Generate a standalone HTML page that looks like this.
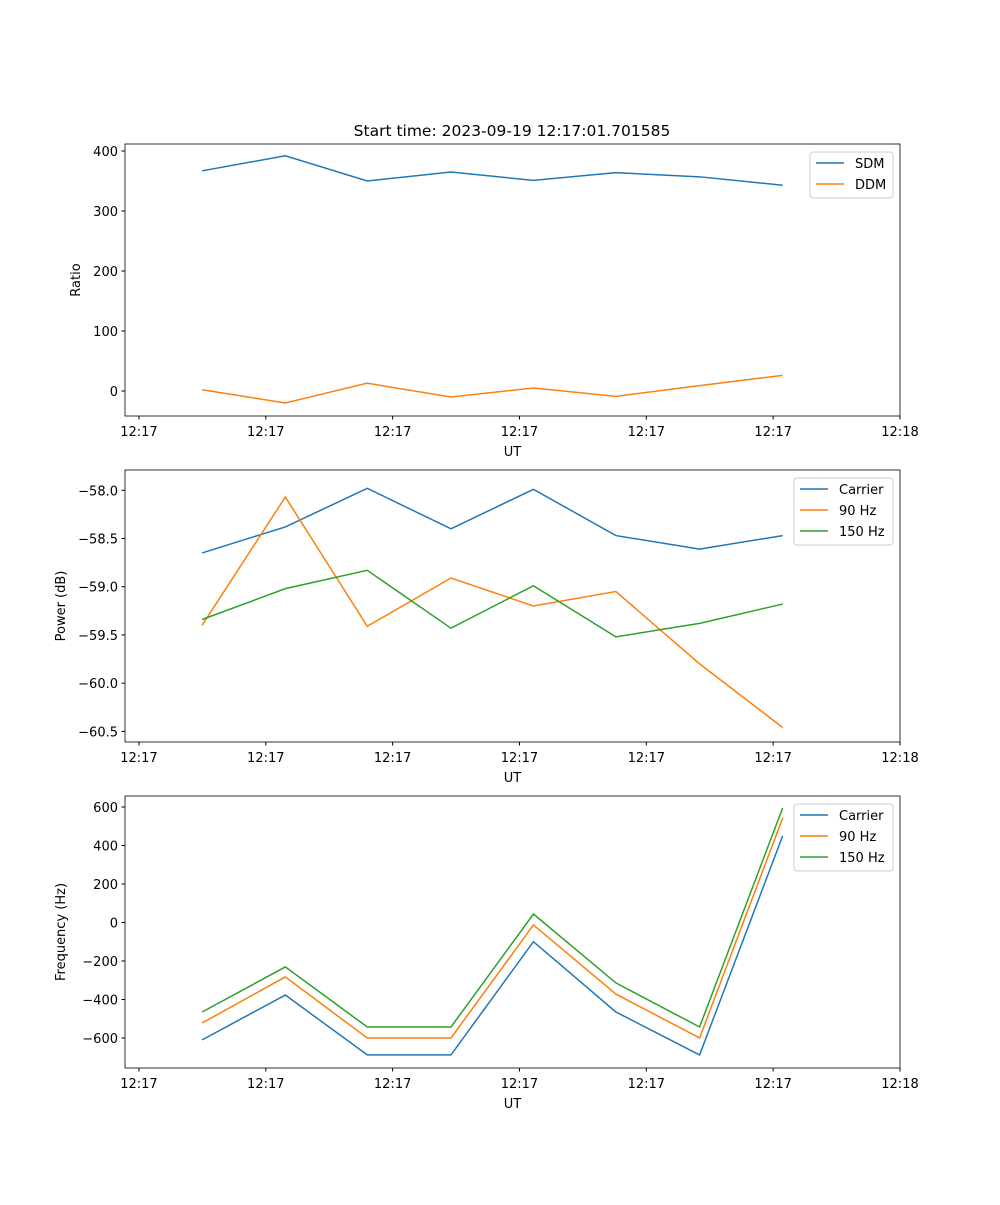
<!DOCTYPE html>
<html><head><meta charset="utf-8"><style>
body{margin:0;background:#fff;}
svg text{font-family:"DejaVu Sans","Liberation Sans",sans-serif;font-size:13px;fill:#000;}
</style></head><body>
<svg id="fig" width="1000" height="1200" xmlns="http://www.w3.org/2000/svg">
<rect width="1000" height="1200" fill="#fff"/>
<text x="512" y="136" text-anchor="middle" style="font-size:15.5px">Start time: 2023-09-19 12:17:01.701585</text>
</svg>
<script>
const xTickLabels=["12:17","12:17","12:17","12:17","12:17","12:17","12:18"];
const xVals=[0.498,1.154,1.80,2.46,3.11,3.76,4.42,5.075];
const sdm=[367,392,350,365,351,364,357,343];
const ddm=[2,-20,13,-10,5,-9,9,26];
const pCarrier=[-58.65,-58.38,-57.98,-58.40,-57.99,-58.47,-58.61,-58.47];
const p90=[-59.40,-58.07,-59.41,-58.91,-59.20,-59.05,-59.80,-60.46];
const p150=[-59.34,-59.02,-58.83,-59.43,-58.99,-59.52,-59.38,-59.18];
const fCarrier=[-610,-377,-688,-688,-100,-465,-688,450];
const f90=[-522,-283,-600,-600,-13,-372,-600,543];
const f150=[-465,-231,-543,-543,44,-314,-543,595];
const ticks1=[0,100,200,300,400],ticks1L=["0","100","200","300","400"];
const ticks2=[-60.5,-60,-59.5,-59,-58.5,-58],ticks2L=["\u221260.5","\u221260.0","\u221259.5","\u221259.0","\u221258.5","\u221258.0"];
const ticks3=[-600,-400,-200,0,200,400,600],ticks3L=["\u2212600","\u2212400","\u2212200","0","200","400","600"];
const C1="#1f77b4",C2="#ff7f0e",C3="#2ca02c";
const NS="http://www.w3.org/2000/svg",svg=document.getElementById('fig');
function mk(t,a,p){const e=document.createElementNS(NS,t);for(const k in a)e.setAttribute(k,a[k]);(p||svg).appendChild(e);return e;}
const L=125,R=900,xmin=-0.11,xmax=6.0;
const xs=v=>L+(v-xmin)/(xmax-xmin)*(R-L);
function panel(name,top,bot,ymin,ymax,ticks,tl,ylabel,series,leg){
  const g=mk('g',{});
  
  
  const ys=v=>bot-(v-ymin)/(ymax-ymin)*(bot-top);
  ticks.forEach((t,i)=>{const y=ys(t);mk('line',{x1:L-3.5,x2:L,y1:y,y2:y,stroke:'#000'},g);
    const tx=mk('text',{x:L-7,y:y+5,'text-anchor':'end'},g);tx.textContent=tl[i];
    
    });
  xTickLabels.forEach((t,i)=>{const x=xs(i);mk('line',{x1:x,x2:x,y1:bot,y2:bot+3.5,stroke:'#000'},g);
    const tx=mk('text',{x:x,y:bot+20,'text-anchor':'middle'},g);tx.textContent=t;
    
    });
  const xl=mk('text',{x:(L+R)/2,y:bot+40,'text-anchor':'middle'},g);xl.textContent='UT';
  
  
  const yl=mk('text',{x:0,y:0,'text-anchor':'middle',transform:`translate(${name==='ratio-panel'?80:65},${(top+bot)/2}) rotate(-90)`},g);yl.textContent=ylabel;
  
  
  series.forEach(s=>{const pl=mk('polyline',{points:s.d.map((v,i)=>xs(xVals[i])+','+ys(v)).join(' '),fill:'none',stroke:s.c,'stroke-width':1.5},g);
    
    });
  mk('rect',{x:L,y:top,width:R-L,height:bot-top,fill:'none',stroke:'#000','stroke-width':0.8},g);
  const lg=mk('g',{},g);
  
  
  mk('rect',{x:leg,y:top+8,width:893-leg,height:series.length*21+4,fill:'#fff',stroke:'#ccc',rx:3},lg);
  series.forEach((s,i)=>{const y=top+19+i*21;mk('line',{x1:leg+6,x2:leg+34,y1:y,y2:y,stroke:s.c,'stroke-width':1.5},lg);
    const t=mk('text',{x:leg+45,y:y+5},lg);t.textContent=s.n;
    
    });
}
panel('ratio-panel',144,416,-41.7,411.7,ticks1,ticks1L,'Ratio',[{n:'SDM',d:sdm,c:C1},{n:'DDM',d:ddm,c:C2}],810);
panel('power-panel',470,742,-60.61,-57.79,ticks2,ticks2L,'Power (dB)',[{n:'Carrier',d:pCarrier,c:C1},{n:'90 Hz',d:p90,c:C2},{n:'150 Hz',d:p150,c:C3}],794);
panel('frequency-panel',796,1068,-756,657,ticks3,ticks3L,'Frequency (Hz)',[{n:'Carrier',d:fCarrier,c:C1},{n:'90 Hz',d:f90,c:C2},{n:'150 Hz',d:f150,c:C3}],794);
</script>
</body></html>
